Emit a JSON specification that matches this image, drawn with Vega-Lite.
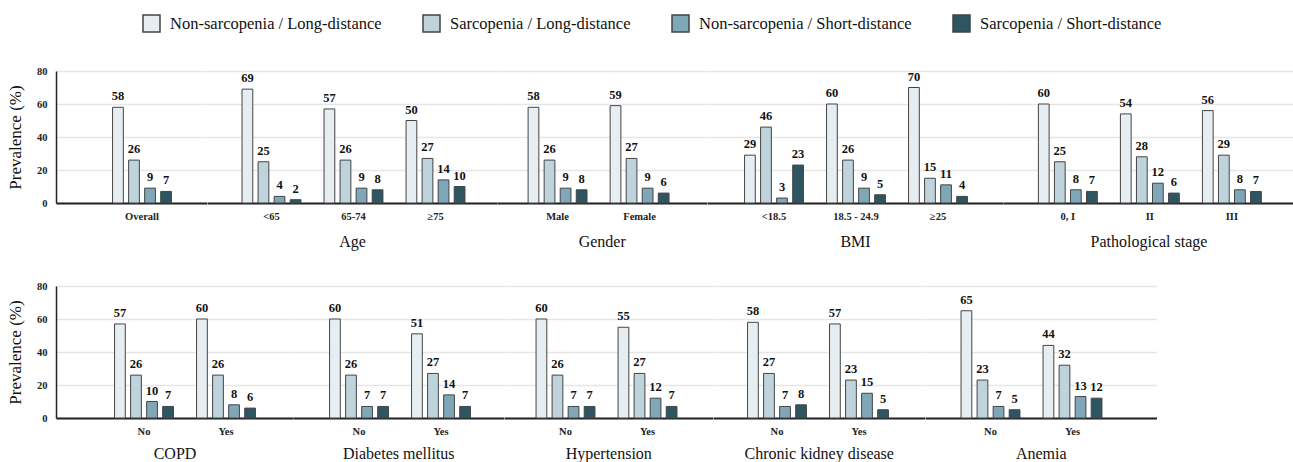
{
  "$schema": "https://vega.github.io/schema/vega-lite/v6.json",
  "padding": {"left": 6, "top": 14, "right": 0, "bottom": 0},
  "datasets": {
    "d": [
      {"g": "Overall", "c": "Overall", "s": "Non-sarcopenia / Long-distance", "v": 58},
      {"g": "Overall", "c": "Overall", "s": "Sarcopenia / Long-distance", "v": 26},
      {"g": "Overall", "c": "Overall", "s": "Non-sarcopenia / Short-distance", "v": 9},
      {"g": "Overall", "c": "Overall", "s": "Sarcopenia / Short-distance", "v": 7},
      {"g": "Age", "c": "<65", "s": "Non-sarcopenia / Long-distance", "v": 69},
      {"g": "Age", "c": "<65", "s": "Sarcopenia / Long-distance", "v": 25},
      {"g": "Age", "c": "<65", "s": "Non-sarcopenia / Short-distance", "v": 4},
      {"g": "Age", "c": "<65", "s": "Sarcopenia / Short-distance", "v": 2},
      {"g": "Age", "c": "65-74", "s": "Non-sarcopenia / Long-distance", "v": 57},
      {"g": "Age", "c": "65-74", "s": "Sarcopenia / Long-distance", "v": 26},
      {"g": "Age", "c": "65-74", "s": "Non-sarcopenia / Short-distance", "v": 9},
      {"g": "Age", "c": "65-74", "s": "Sarcopenia / Short-distance", "v": 8},
      {"g": "Age", "c": "≥75", "s": "Non-sarcopenia / Long-distance", "v": 50},
      {"g": "Age", "c": "≥75", "s": "Sarcopenia / Long-distance", "v": 27},
      {"g": "Age", "c": "≥75", "s": "Non-sarcopenia / Short-distance", "v": 14},
      {"g": "Age", "c": "≥75", "s": "Sarcopenia / Short-distance", "v": 10},
      {"g": "Gender", "c": "Male", "s": "Non-sarcopenia / Long-distance", "v": 58},
      {"g": "Gender", "c": "Male", "s": "Sarcopenia / Long-distance", "v": 26},
      {"g": "Gender", "c": "Male", "s": "Non-sarcopenia / Short-distance", "v": 9},
      {"g": "Gender", "c": "Male", "s": "Sarcopenia / Short-distance", "v": 8},
      {"g": "Gender", "c": "Female", "s": "Non-sarcopenia / Long-distance", "v": 59},
      {"g": "Gender", "c": "Female", "s": "Sarcopenia / Long-distance", "v": 27},
      {"g": "Gender", "c": "Female", "s": "Non-sarcopenia / Short-distance", "v": 9},
      {"g": "Gender", "c": "Female", "s": "Sarcopenia / Short-distance", "v": 6},
      {"g": "BMI", "c": "<18.5", "s": "Non-sarcopenia / Long-distance", "v": 29},
      {"g": "BMI", "c": "<18.5", "s": "Sarcopenia / Long-distance", "v": 46},
      {"g": "BMI", "c": "<18.5", "s": "Non-sarcopenia / Short-distance", "v": 3},
      {"g": "BMI", "c": "<18.5", "s": "Sarcopenia / Short-distance", "v": 23},
      {"g": "BMI", "c": "18.5 - 24.9", "s": "Non-sarcopenia / Long-distance", "v": 60},
      {"g": "BMI", "c": "18.5 - 24.9", "s": "Sarcopenia / Long-distance", "v": 26},
      {"g": "BMI", "c": "18.5 - 24.9", "s": "Non-sarcopenia / Short-distance", "v": 9},
      {"g": "BMI", "c": "18.5 - 24.9", "s": "Sarcopenia / Short-distance", "v": 5},
      {"g": "BMI", "c": "≥25", "s": "Non-sarcopenia / Long-distance", "v": 70},
      {"g": "BMI", "c": "≥25", "s": "Sarcopenia / Long-distance", "v": 15},
      {"g": "BMI", "c": "≥25", "s": "Non-sarcopenia / Short-distance", "v": 11},
      {"g": "BMI", "c": "≥25", "s": "Sarcopenia / Short-distance", "v": 4},
      {"g": "Pathological stage", "c": "0, I", "s": "Non-sarcopenia / Long-distance", "v": 60},
      {"g": "Pathological stage", "c": "0, I", "s": "Sarcopenia / Long-distance", "v": 25},
      {"g": "Pathological stage", "c": "0, I", "s": "Non-sarcopenia / Short-distance", "v": 8},
      {"g": "Pathological stage", "c": "0, I", "s": "Sarcopenia / Short-distance", "v": 7},
      {"g": "Pathological stage", "c": "II", "s": "Non-sarcopenia / Long-distance", "v": 54},
      {"g": "Pathological stage", "c": "II", "s": "Sarcopenia / Long-distance", "v": 28},
      {"g": "Pathological stage", "c": "II", "s": "Non-sarcopenia / Short-distance", "v": 12},
      {"g": "Pathological stage", "c": "II", "s": "Sarcopenia / Short-distance", "v": 6},
      {"g": "Pathological stage", "c": "III", "s": "Non-sarcopenia / Long-distance", "v": 56},
      {"g": "Pathological stage", "c": "III", "s": "Sarcopenia / Long-distance", "v": 29},
      {"g": "Pathological stage", "c": "III", "s": "Non-sarcopenia / Short-distance", "v": 8},
      {"g": "Pathological stage", "c": "III", "s": "Sarcopenia / Short-distance", "v": 7},
      {"g": "COPD", "c": "No", "s": "Non-sarcopenia / Long-distance", "v": 57},
      {"g": "COPD", "c": "No", "s": "Sarcopenia / Long-distance", "v": 26},
      {"g": "COPD", "c": "No", "s": "Non-sarcopenia / Short-distance", "v": 10},
      {"g": "COPD", "c": "No", "s": "Sarcopenia / Short-distance", "v": 7},
      {"g": "COPD", "c": "Yes", "s": "Non-sarcopenia / Long-distance", "v": 60},
      {"g": "COPD", "c": "Yes", "s": "Sarcopenia / Long-distance", "v": 26},
      {"g": "COPD", "c": "Yes", "s": "Non-sarcopenia / Short-distance", "v": 8},
      {"g": "COPD", "c": "Yes", "s": "Sarcopenia / Short-distance", "v": 6},
      {"g": "Diabetes mellitus", "c": "No", "s": "Non-sarcopenia / Long-distance", "v": 60},
      {"g": "Diabetes mellitus", "c": "No", "s": "Sarcopenia / Long-distance", "v": 26},
      {"g": "Diabetes mellitus", "c": "No", "s": "Non-sarcopenia / Short-distance", "v": 7},
      {"g": "Diabetes mellitus", "c": "No", "s": "Sarcopenia / Short-distance", "v": 7},
      {"g": "Diabetes mellitus", "c": "Yes", "s": "Non-sarcopenia / Long-distance", "v": 51},
      {"g": "Diabetes mellitus", "c": "Yes", "s": "Sarcopenia / Long-distance", "v": 27},
      {"g": "Diabetes mellitus", "c": "Yes", "s": "Non-sarcopenia / Short-distance", "v": 14},
      {"g": "Diabetes mellitus", "c": "Yes", "s": "Sarcopenia / Short-distance", "v": 7},
      {"g": "Hypertension", "c": "No", "s": "Non-sarcopenia / Long-distance", "v": 60},
      {"g": "Hypertension", "c": "No", "s": "Sarcopenia / Long-distance", "v": 26},
      {"g": "Hypertension", "c": "No", "s": "Non-sarcopenia / Short-distance", "v": 7},
      {"g": "Hypertension", "c": "No", "s": "Sarcopenia / Short-distance", "v": 7},
      {"g": "Hypertension", "c": "Yes", "s": "Non-sarcopenia / Long-distance", "v": 55},
      {"g": "Hypertension", "c": "Yes", "s": "Sarcopenia / Long-distance", "v": 27},
      {"g": "Hypertension", "c": "Yes", "s": "Non-sarcopenia / Short-distance", "v": 12},
      {"g": "Hypertension", "c": "Yes", "s": "Sarcopenia / Short-distance", "v": 7},
      {"g": "Chronic kidney disease", "c": "No", "s": "Non-sarcopenia / Long-distance", "v": 58},
      {"g": "Chronic kidney disease", "c": "No", "s": "Sarcopenia / Long-distance", "v": 27},
      {"g": "Chronic kidney disease", "c": "No", "s": "Non-sarcopenia / Short-distance", "v": 7},
      {"g": "Chronic kidney disease", "c": "No", "s": "Sarcopenia / Short-distance", "v": 8},
      {"g": "Chronic kidney disease", "c": "Yes", "s": "Non-sarcopenia / Long-distance", "v": 57},
      {"g": "Chronic kidney disease", "c": "Yes", "s": "Sarcopenia / Long-distance", "v": 23},
      {"g": "Chronic kidney disease", "c": "Yes", "s": "Non-sarcopenia / Short-distance", "v": 15},
      {"g": "Chronic kidney disease", "c": "Yes", "s": "Sarcopenia / Short-distance", "v": 5},
      {"g": "Anemia", "c": "No", "s": "Non-sarcopenia / Long-distance", "v": 65},
      {"g": "Anemia", "c": "No", "s": "Sarcopenia / Long-distance", "v": 23},
      {"g": "Anemia", "c": "No", "s": "Non-sarcopenia / Short-distance", "v": 7},
      {"g": "Anemia", "c": "No", "s": "Sarcopenia / Short-distance", "v": 5},
      {"g": "Anemia", "c": "Yes", "s": "Non-sarcopenia / Long-distance", "v": 44},
      {"g": "Anemia", "c": "Yes", "s": "Sarcopenia / Long-distance", "v": 32},
      {"g": "Anemia", "c": "Yes", "s": "Non-sarcopenia / Short-distance", "v": 13},
      {"g": "Anemia", "c": "Yes", "s": "Sarcopenia / Short-distance", "v": 12}
    ]
  },
  "data": {"name": "d"},
  "config": {
    "font": "Liberation Serif, Times New Roman, DejaVu Serif, serif",
    "view": {"stroke": null},
    "text": {"font": "Liberation Serif, Times New Roman, DejaVu Serif, serif"},
    "axisX": {"labelAngle": 0, "labelFont": "Liberation Serif, Times New Roman, DejaVu Serif, serif", "labelFontWeight": "bold", "labelFontSize": 10.5, "labelColor": "#222", "ticks": false, "tickSize": 0, "domainColor": "#222", "domainWidth": 2, "labelPadding": 8, "titleFont": "Liberation Serif, Times New Roman, DejaVu Serif, serif", "titleFontSize": 16, "titleFontWeight": "normal", "titleColor": "#111", "titlePadding": 12, "grid": false},
    "axisY": {"grid": true, "gridColor": "#e6e6e6", "gridWidth": 1.5, "values": [0, 20, 40, 60, 80], "ticks": false, "tickSize": 0, "labelFont": "Liberation Serif, Times New Roman, DejaVu Serif, serif", "labelFontWeight": "bold", "labelFontSize": 10.5, "labelColor": "#222", "labelPadding": 9, "domainColor": "#222", "domainWidth": 1.5, "titleFont": "Liberation Serif, Times New Roman, DejaVu Serif, serif", "titleFontSize": 17, "titleFontWeight": "normal", "titleColor": "#111", "titlePadding": 12},
    "legend": {"padding": 0, "labelFont": "Liberation Serif, Times New Roman, DejaVu Serif, serif"},
    "scale": {"round": false}
  },
  "resolve": {"scale": {"x": "independent", "xOffset": "independent"}},
  "spacing": 31,
  "vconcat": [
    {
      "spacing": 0,
      "bounds": "flush",
      "resolve": {"scale": {"x": "independent", "xOffset": "independent"}},
      "hconcat": [
        {
          "width": 150.5, "height": 132,
          "transform": [{"filter": "datum.g == 'Overall'"}],
          "encoding": {
            "x": {"field": "c", "type": "nominal", "sort": null, "scale": {"paddingInner": 0, "paddingOuter": 0.418, "align": 0.657}, "axis": {"title": null}},
            "xOffset": {"field": "s", "type": "nominal", "sort": null, "scale": {"paddingInner": 0.33, "paddingOuter": 0.72}},
            "y": {"field": "v", "type": "quantitative", "scale": {"domain": [0, 80]}, "axis": {"title": "Prevalence (%)"}}
          },
          "layer": [
            {"mark": {"type": "bar", "stroke": "#444", "strokeWidth": 1},
             "encoding": {"color": {"field": "s", "type": "nominal", "scale": {"domain": ["Non-sarcopenia / Long-distance", "Sarcopenia / Long-distance", "Non-sarcopenia / Short-distance", "Sarcopenia / Short-distance"], "range": ["#e7eef2", "#bed3dc", "#80a7b7", "#2d5662"]},
               "legend": {"orient": "none", "legendX": 86, "legendY": -57, "direction": "horizontal", "title": null, "symbolType": "square", "symbolSize": 289, "symbolStrokeColor": "#222", "symbolStrokeWidth": 1.5, "symbolOpacity": 1, "labelFont": "Liberation Serif, Times New Roman, DejaVu Serif, serif", "labelFontSize": 16.5, "labelColor": "#111", "labelOffset": 9, "columnPadding": 38, "labelLimit": 400}}}},
            {"mark": {"type": "text", "baseline": "alphabetic", "dy": -7, "font": "Liberation Serif, Times New Roman, DejaVu Serif, serif", "fontWeight": "bold", "fontSize": 12.5, "color": "#111"},
             "encoding": {"text": {"field": "v", "type": "quantitative"}}}
          ]
        },
        {
          "width": 290, "height": 132,
          "transform": [{"filter": "datum.g == 'Age'"}],
          "encoding": {
            "x": {"field": "c", "type": "nominal", "sort": null, "scale": {"paddingInner": 0, "paddingOuter": 0.268, "align": 0.534}, "axis": {"title": "Age"}},
            "xOffset": {"field": "s", "type": "nominal", "sort": null, "scale": {"paddingInner": 0.33, "paddingOuter": 0.72}},
            "y": {"field": "v", "type": "quantitative", "scale": {"domain": [0, 80]}, "axis": {"title": null, "labels": false, "domain": false}}
          },
          "layer": [
            {"mark": {"type": "bar", "stroke": "#444", "strokeWidth": 1}, "encoding": {"color": {"field": "s", "type": "nominal"}}},
            {"mark": {"type": "text", "baseline": "alphabetic", "dy": -7, "font": "Liberation Serif, Times New Roman, DejaVu Serif, serif", "fontWeight": "bold", "fontSize": 12.5, "color": "#111"}, "encoding": {"text": {"field": "v", "type": "quantitative"}}}
          ]
        },
        {
          "width": 209.5, "height": 132,
          "transform": [{"filter": "datum.g == 'Gender'"}],
          "encoding": {
            "x": {"field": "c", "type": "nominal", "sort": null, "scale": {"paddingInner": 0, "paddingOuter": 0.277, "align": 0.43}, "axis": {"title": "Gender"}},
            "xOffset": {"field": "s", "type": "nominal", "sort": null, "scale": {"paddingInner": 0.33, "paddingOuter": 0.72}},
            "y": {"field": "v", "type": "quantitative", "scale": {"domain": [0, 80]}, "axis": {"title": null, "labels": false, "domain": false}}
          },
          "layer": [
            {"mark": {"type": "bar", "stroke": "#444", "strokeWidth": 1}, "encoding": {"color": {"field": "s", "type": "nominal"}}},
            {"mark": {"type": "text", "baseline": "alphabetic", "dy": -7, "font": "Liberation Serif, Times New Roman, DejaVu Serif, serif", "fontWeight": "bold", "fontSize": 12.5, "color": "#111"}, "encoding": {"text": {"field": "v", "type": "quantitative"}}}
          ]
        },
        {
          "width": 296, "height": 132,
          "transform": [{"filter": "datum.g == 'BMI'"}],
          "encoding": {
            "x": {"field": "c", "type": "nominal", "sort": null, "scale": {"paddingInner": 0, "paddingOuter": 0.305, "align": 0.52}, "axis": {"title": "BMI"}},
            "xOffset": {"field": "s", "type": "nominal", "sort": null, "scale": {"paddingInner": 0.33, "paddingOuter": 0.72}},
            "y": {"field": "v", "type": "quantitative", "scale": {"domain": [0, 80]}, "axis": {"title": null, "labels": false, "domain": false}}
          },
          "layer": [
            {"mark": {"type": "bar", "stroke": "#444", "strokeWidth": 1}, "encoding": {"color": {"field": "s", "type": "nominal"}}},
            {"mark": {"type": "text", "baseline": "alphabetic", "dy": -7, "font": "Liberation Serif, Times New Roman, DejaVu Serif, serif", "fontWeight": "bold", "fontSize": 12.5, "color": "#111"}, "encoding": {"text": {"field": "v", "type": "quantitative"}}}
          ]
        },
        {
          "width": 291, "height": 132,
          "transform": [{"filter": "datum.g == 'Pathological stage'"}],
          "encoding": {
            "x": {"field": "c", "type": "nominal", "sort": null, "scale": {"paddingInner": 0, "paddingOuter": 0.274, "align": 0.53}, "axis": {"title": "Pathological stage"}},
            "xOffset": {"field": "s", "type": "nominal", "sort": null, "scale": {"paddingInner": 0.33, "paddingOuter": 0.72}},
            "y": {"field": "v", "type": "quantitative", "scale": {"domain": [0, 80]}, "axis": {"title": null, "labels": false, "domain": false}}
          },
          "layer": [
            {"mark": {"type": "bar", "stroke": "#444", "strokeWidth": 1}, "encoding": {"color": {"field": "s", "type": "nominal"}}},
            {"mark": {"type": "text", "baseline": "alphabetic", "dy": -7, "font": "Liberation Serif, Times New Roman, DejaVu Serif, serif", "fontWeight": "bold", "fontSize": 12.5, "color": "#111"}, "encoding": {"text": {"field": "v", "type": "quantitative"}}}
          ]
        }
      ]
    },
    {
      "spacing": 0,
      "bounds": "flush",
      "resolve": {"scale": {"x": "independent", "xOffset": "independent"}},
      "hconcat": [
        {
          "width": 237, "height": 132,
          "transform": [{"filter": "datum.g == 'COPD'"}],
          "encoding": {
            "x": {"field": "c", "type": "nominal", "sort": null, "scale": {"paddingInner": 0, "paddingOuter": 0.445, "align": 0.644}, "axis": {"title": "COPD", "titlePadding": 9}},
            "xOffset": {"field": "s", "type": "nominal", "sort": null, "scale": {"paddingInner": 0.33, "paddingOuter": 0.72}},
            "y": {"field": "v", "type": "quantitative", "scale": {"domain": [0, 80]}, "axis": {"title": "Prevalence (%)"}}
          },
          "layer": [
            {"mark": {"type": "bar", "stroke": "#444", "strokeWidth": 1}, "encoding": {"color": {"field": "s", "type": "nominal"}}},
            {"mark": {"type": "text", "baseline": "alphabetic", "dy": -7, "font": "Liberation Serif, Times New Roman, DejaVu Serif, serif", "fontWeight": "bold", "fontSize": 12.5, "color": "#111"}, "encoding": {"text": {"field": "v", "type": "quantitative"}}}
          ]
        },
        {
          "width": 210.5, "height": 132,
          "transform": [{"filter": "datum.g == 'Diabetes mellitus'"}],
          "encoding": {
            "x": {"field": "c", "type": "nominal", "sort": null, "scale": {"paddingInner": 0, "paddingOuter": 0.2835, "align": 0.538}, "axis": {"title": "Diabetes mellitus", "titlePadding": 9}},
            "xOffset": {"field": "s", "type": "nominal", "sort": null, "scale": {"paddingInner": 0.33, "paddingOuter": 0.72}},
            "y": {"field": "v", "type": "quantitative", "scale": {"domain": [0, 80]}, "axis": {"title": null, "labels": false, "domain": false}}
          },
          "layer": [
            {"mark": {"type": "bar", "stroke": "#444", "strokeWidth": 1}, "encoding": {"color": {"field": "s", "type": "nominal"}}},
            {"mark": {"type": "text", "baseline": "alphabetic", "dy": -7, "font": "Liberation Serif, Times New Roman, DejaVu Serif, serif", "fontWeight": "bold", "fontSize": 12.5, "color": "#111"}, "encoding": {"text": {"field": "v", "type": "quantitative"}}}
          ]
        },
        {
          "width": 208.5, "height": 132,
          "transform": [{"filter": "datum.g == 'Hypertension'"}],
          "encoding": {
            "x": {"field": "c", "type": "nominal", "sort": null, "scale": {"paddingInner": 0, "paddingOuter": 0.271, "align": 0.461}, "axis": {"title": "Hypertension", "titlePadding": 9}},
            "xOffset": {"field": "s", "type": "nominal", "sort": null, "scale": {"paddingInner": 0.33, "paddingOuter": 0.72}},
            "y": {"field": "v", "type": "quantitative", "scale": {"domain": [0, 80]}, "axis": {"title": null, "labels": false, "domain": false}}
          },
          "layer": [
            {"mark": {"type": "bar", "stroke": "#444", "strokeWidth": 1}, "encoding": {"color": {"field": "s", "type": "nominal"}}},
            {"mark": {"type": "text", "baseline": "alphabetic", "dy": -7, "font": "Liberation Serif, Times New Roman, DejaVu Serif, serif", "fontWeight": "bold", "fontSize": 12.5, "color": "#111"}, "encoding": {"text": {"field": "v", "type": "quantitative"}}}
          ]
        },
        {
          "width": 211.5, "height": 132,
          "transform": [{"filter": "datum.g == 'Chronic kidney disease'"}],
          "encoding": {
            "x": {"field": "c", "type": "nominal", "sort": null, "scale": {"paddingInner": 0, "paddingOuter": 0.29, "align": 0.484}, "axis": {"title": "Chronic kidney disease", "titlePadding": 9}},
            "xOffset": {"field": "s", "type": "nominal", "sort": null, "scale": {"paddingInner": 0.33, "paddingOuter": 0.72}},
            "y": {"field": "v", "type": "quantitative", "scale": {"domain": [0, 80]}, "axis": {"title": null, "labels": false, "domain": false}}
          },
          "layer": [
            {"mark": {"type": "bar", "stroke": "#444", "strokeWidth": 1}, "encoding": {"color": {"field": "s", "type": "nominal"}}},
            {"mark": {"type": "text", "baseline": "alphabetic", "dy": -7, "font": "Liberation Serif, Times New Roman, DejaVu Serif, serif", "fontWeight": "bold", "fontSize": 12.5, "color": "#111"}, "encoding": {"text": {"field": "v", "type": "quantitative"}}}
          ]
        },
        {
          "width": 231.5, "height": 132,
          "transform": [{"filter": "datum.g == 'Anemia'"}],
          "encoding": {
            "x": {"field": "c", "type": "nominal", "sort": null, "scale": {"paddingInner": 0, "paddingOuter": 0.4115, "align": 0.363}, "axis": {"title": "Anemia", "titlePadding": 9}},
            "xOffset": {"field": "s", "type": "nominal", "sort": null, "scale": {"paddingInner": 0.33, "paddingOuter": 0.72}},
            "y": {"field": "v", "type": "quantitative", "scale": {"domain": [0, 80]}, "axis": {"title": null, "labels": false, "domain": false}}
          },
          "layer": [
            {"mark": {"type": "bar", "stroke": "#444", "strokeWidth": 1}, "encoding": {"color": {"field": "s", "type": "nominal"}}},
            {"mark": {"type": "text", "baseline": "alphabetic", "dy": -7, "font": "Liberation Serif, Times New Roman, DejaVu Serif, serif", "fontWeight": "bold", "fontSize": 12.5, "color": "#111"}, "encoding": {"text": {"field": "v", "type": "quantitative"}}}
          ]
        }
      ]
    }
  ]
}
